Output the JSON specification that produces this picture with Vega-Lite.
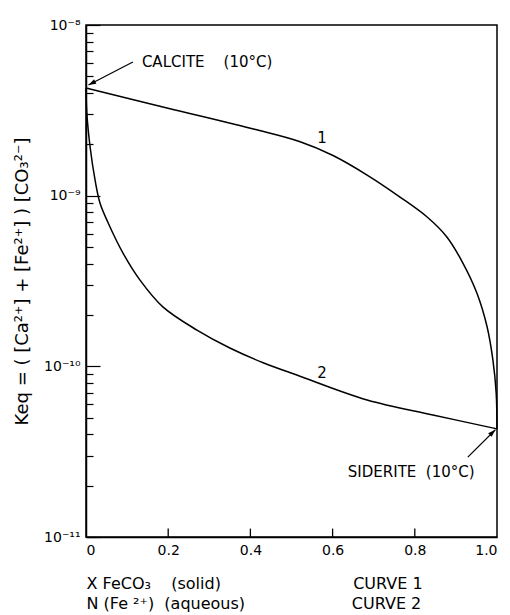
{
  "$schema": "https://vega.github.io/schema/vega-lite/v6.json",
  "width": 411,
  "height": 512,
  "autosize": {"type": "none"},
  "padding": {"left": 86, "top": 25, "right": 13, "bottom": 78},
  "background": "white",
  "config": {
    "view": {"stroke": "black", "strokeWidth": 1.5},
    "font": "DejaVu Sans",
    "axis": {"grid": false, "domainColor": "black", "domainWidth": 1.5, "tickColor": "black", "tickWidth": 1.2, "labelColor": "black", "titleColor": "black", "labelFontSize": 14, "titleFontWeight": "normal"}
  },
  "resolve": {"axis": {"x": "independent", "y": "independent"}},
  "datasets": {
    "curves": [
      {"curve": "1", "x": 0, "k": 4.276e-9},
      {"curve": "1", "x": 0.197, "k": 3.266e-9},
      {"curve": "1", "x": 0.41, "k": 2.45e-9},
      {"curve": "1", "x": 0.521, "k": 2.07e-9},
      {"curve": "1", "x": 0.601, "k": 1.72e-9},
      {"curve": "1", "x": 0.684, "k": 1.321e-9},
      {"curve": "1", "x": 0.764, "k": 9.82e-10},
      {"curve": "1", "x": 0.83, "k": 7.5e-10},
      {"curve": "1", "x": 0.878, "k": 5.73e-10},
      {"curve": "1", "x": 0.917, "k": 4.03e-10},
      {"curve": "1", "x": 0.951, "k": 2.69e-10},
      {"curve": "1", "x": 0.976, "k": 1.7e-10},
      {"curve": "1", "x": 0.99, "k": 1.09e-10},
      {"curve": "1", "x": 0.998, "k": 6.98e-11},
      {"curve": "1", "x": 1.0, "k": 4.3e-11},
      {"curve": "2", "x": 0, "k": 4.276e-9},
      {"curve": "2", "x": 0.002, "k": 3.048e-9},
      {"curve": "2", "x": 0.01, "k": 1.928e-9},
      {"curve": "2", "x": 0.022, "k": 1.236e-9},
      {"curve": "2", "x": 0.034, "k": 9.06e-10},
      {"curve": "2", "x": 0.054, "k": 6.92e-10},
      {"curve": "2", "x": 0.09, "k": 4.61e-10},
      {"curve": "2", "x": 0.131, "k": 3.21e-10},
      {"curve": "2", "x": 0.187, "k": 2.23e-10},
      {"curve": "2", "x": 0.27, "k": 1.63e-10},
      {"curve": "2", "x": 0.35, "k": 1.28e-10},
      {"curve": "2", "x": 0.431, "k": 1.05e-10},
      {"curve": "2", "x": 0.513, "k": 8.89e-11},
      {"curve": "2", "x": 0.684, "k": 6.35e-11},
      {"curve": "2", "x": 0.844, "k": 5.19e-11},
      {"curve": "2", "x": 1.0, "k": 4.3e-11}
    ],
    "arrows": [
      {"name": "calcite", "x": 0.114, "k": 6.07e-9, "x2": 0.006, "k2": 4.45e-9},
      {"name": "siderite", "x": 0.929, "k": 2.94e-11, "x2": 0.996, "k2": 4.25e-11}
    ],
    "notes": [
      {"name": "calcite", "x": 0.136, "k": 6.07e-9, "text": "CALCITE\u00a0\u00a0\u00a0\u00a0(10°C)"},
      {"name": "siderite", "x": 0.637, "k": 2.4e-11, "text": "SIDERITE\u00a0\u00a0(10°C)"}
    ],
    "curvelabels": [
      {"x": 0.574, "k": 2.18e-9, "text": "1"},
      {"x": 0.574, "k": 9.14e-11, "text": "2"}
    ],
    "xticks": [
      {"x": 0.2, "k": 1e-11, "k2": 1.12e-11},
      {"x": 0.4, "k": 1e-11, "k2": 1.12e-11},
      {"x": 0.6, "k": 1e-11, "k2": 1.12e-11},
      {"x": 0.8, "k": 1e-11, "k2": 1.12e-11}
    ]
  },
  "layer": [
    {
      "data": {"name": "curves"},
      "mark": {"type": "line", "color": "black", "strokeWidth": 1.5, "interpolate": "catmull-rom"},
      "encoding": {
        "x": {
          "field": "x", "type": "quantitative",
          "scale": {"domain": [0, 1], "nice": false, "zero": false},
          "axis": {
            "values": [0, 0.2, 0.4, 0.6, 0.8, 1.0],
            "labelExpr": "datum.value == 0 ? '0' : format(datum.value, '.1f')",
            "ticks": false,
            "labelPadding": 6,
            "title": ["\u00a0\u00a0X FeCO₃\u00a0\u00a0\u00a0\u00a0(solid)\u00a0\u00a0\u00a0\u00a0\u00a0\u00a0\u00a0\u00a0\u00a0\u00a0\u00a0\u00a0\u00a0\u00a0\u00a0\u00a0\u00a0\u00a0\u00a0\u00a0\u00a0\u00a0\u00a0\u00a0\u00a0\u00a0CURVE 1", "N\u00a0(Fe\u00a0²⁺)\u00a0\u00a0(aqueous)\u00a0\u00a0\u00a0\u00a0\u00a0\u00a0\u00a0\u00a0\u00a0\u00a0\u00a0\u00a0\u00a0\u00a0\u00a0\u00a0\u00a0\u00a0\u00a0\u00a0\u00a0CURVE 2"],
            "titleAnchor": "start",
            "titleAlign": "left",
            "titleFontSize": 16,
            "titleLineHeight": 20,
            "titlePadding": 18
          }
        },
        "y": {
          "field": "k", "type": "quantitative",
          "scale": {"type": "log", "domain": [1e-11, 1e-8], "nice": false},
          "axis": {
            "values": [1e-11, 1e-10, 1e-9, 1e-8],
            "labelExpr": "datum.value < 5e-11 ? '10⁻¹¹' : datum.value < 5e-10 ? '10⁻¹⁰' : datum.value < 5e-9 ? '10⁻⁹' : '10⁻⁸'",
            "labelOverlap": false,
            "ticks": false,
            "labelPadding": 6,
            "title": "Keq = ( [Ca²⁺] + [Fe²⁺] ) [CO₃²⁻]",
            "titleFontSize": 18,
            "titlePadding": 12
          }
        },
        "detail": {"field": "curve"}
      }
    },
    {
      "data": {"name": "xticks"},
      "mark": {"type": "rule", "color": "black", "strokeWidth": 1.3},
      "encoding": {
        "x": {"field": "x", "type": "quantitative", "axis": null},
        "y": {"field": "k", "type": "quantitative", "axis": null},
        "y2": {"field": "k2"}
      }
    },
    {
      "data": {"name": "arrows"},
      "mark": {"type": "rule", "color": "black", "strokeWidth": 1.2},
      "encoding": {
        "x": {"field": "x", "type": "quantitative", "axis": null},
        "y": {"field": "k", "type": "quantitative", "axis": null},
        "x2": {"field": "x2"},
        "y2": {"field": "k2"}
      }
    },
    {
      "data": {"name": "arrows"},
      "transform": [{"filter": "datum.name == 'calcite'"}],
      "mark": {"type": "point", "shape": "M0,0L-0.4,1.2L0.4,1.2Z", "filled": true, "color": "black", "size": 160, "angle": 243, "opacity": 1},
      "encoding": {
        "x": {"field": "x2", "type": "quantitative", "axis": null},
        "y": {"field": "k2", "type": "quantitative", "axis": null}
      }
    },
    {
      "data": {"name": "arrows"},
      "transform": [{"filter": "datum.name == 'siderite'"}],
      "mark": {"type": "point", "shape": "M0,0L-0.4,1.2L0.4,1.2Z", "filled": true, "color": "black", "size": 160, "angle": 46, "opacity": 1},
      "encoding": {
        "x": {"field": "x2", "type": "quantitative", "axis": null},
        "y": {"field": "k2", "type": "quantitative", "axis": null}
      }
    },
    {
      "data": {"name": "notes"},
      "mark": {"type": "text", "align": "left", "baseline": "middle", "fontSize": 15, "color": "black"},
      "encoding": {
        "x": {"field": "x", "type": "quantitative", "axis": null},
        "y": {
          "field": "k", "type": "quantitative",
          "axis": {
            "orient": "right", "offset": -411,
            "values": [1e-11, 2e-11, 3e-11, 4e-11, 5e-11, 6e-11, 7e-11, 8e-11, 9e-11, 1e-10, 2e-10, 3e-10, 4e-10, 5e-10, 6e-10, 7e-10, 8e-10, 9e-10, 1e-9, 2e-9, 3e-9, 4e-9, 5e-9, 6e-9, 7e-9, 8e-9, 9e-9, 1e-8],
            "labels": false, "domain": false, "title": null,
            "tickSize": {"condition": {"test": "abs(log(datum.value)/LN10 - round(log(datum.value)/LN10)) < 0.001", "value": 14}, "value": 7}
          }
        },
        "text": {"field": "text"}
      }
    },
    {
      "data": {"name": "curvelabels"},
      "mark": {"type": "text", "align": "center", "baseline": "middle", "fontSize": 15, "color": "black"},
      "encoding": {
        "x": {"field": "x", "type": "quantitative", "axis": null},
        "y": {"field": "k", "type": "quantitative", "axis": null},
        "text": {"field": "text"}
      }
    }
  ]
}
